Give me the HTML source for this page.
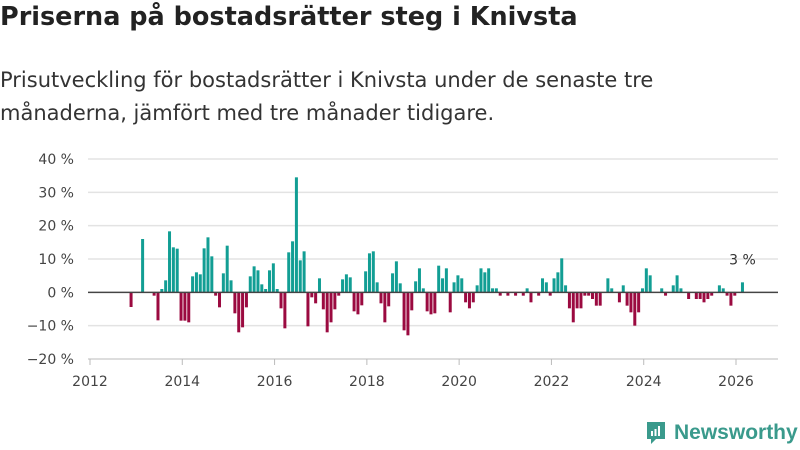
<!DOCTYPE html>
<html><head><meta charset="utf-8">
<style>
body{margin:0;background:#fff;font-family:"DejaVu Sans","Liberation Sans",sans-serif;}
#wrap{position:relative;width:800px;height:450px;overflow:hidden;}
h1{position:absolute;left:0;top:2px;margin:0;font-size:25.5px;font-weight:bold;color:#222;white-space:nowrap;}
p.sub{position:absolute;left:0;top:64px;margin:0;font-size:21px;line-height:33px;color:#333;width:760px;white-space:nowrap;}
</style></head>
<body>
<div id="wrap">
<h1>Priserna på bostadsrätter steg i Knivsta</h1>
<p class="sub">Prisutveckling för bostadsrätter i Knivsta under de senaste tre<br>månaderna, jämfört med tre månader tidigare.</p>
<svg id="chart" width="800" height="450" style="position:absolute;left:0;top:0"></svg>
<div style="position:absolute;left:645px;top:419px;height:28px;display:flex;align-items:center;">
<svg width="22" height="26" viewBox="0 0 22 26"><path d="M2 2h18v17h-9l-5 5v-5H2z" fill="#3a9a8c"/><rect x="6" y="11" width="2" height="5" fill="#fff"/><rect x="9.5" y="9" width="2" height="7" fill="#fff"/><rect x="13" y="6" width="2" height="10" fill="#fff"/></svg>
<span style="font-family:'Liberation Sans',sans-serif;font-size:21px;font-weight:bold;color:#3a9a8c;margin-left:7px;">Newsworthy</span>
</div>
</div>
<script>
const startYear = 2012.89;
const values = [-4.4,0,0,16,0,0,-1,-8.4,1,3.6,18.3,13.5,13.1,-8.5,-8.5,-9,4.8,6,5.4,13.2,16.5,10.8,-1,-4.5,5.7,14,3.6,-6.3,-12,-10.5,-4.5,4.8,7.8,6.6,2.4,1,6.6,8.7,1,-4.8,-10.8,12,15.3,34.5,9.6,12.3,-10.2,-1.5,-3.3,4.2,-5.1,-12,-9,-5.1,-1,3.9,5.4,4.5,-5.7,-6.6,-3.9,6.3,11.7,12.3,3,-3.3,-9,-4.2,5.7,9.3,2.7,-11.4,-12.9,-5.4,3.3,7.2,1.2,-5.7,-6.6,-6.3,8,4.2,7.2,-6,3,5.1,4.2,-3,-4.8,-3,2.1,7.2,6,7.2,1.2,1.2,-1,0,-1,0,-1,0,-1,1.2,-3,0,-1,4.2,3,-1,4.2,6,10.2,2.1,-4.8,-9,-4.8,-4.8,-1,-1,-2,-4,-4,0,4.2,1.2,0,-3,2.1,-4,-6,-10,-6,1.2,7.2,5.1,0,0,1.2,-1,0,2.1,5.1,1.2,0,-2,0,-2,-2,-3,-2,-1,0,2.1,1.2,-1,-4,-1,0,3];
const yTicks = [40,30,20,10,0,-10,-20];
const yTickLabels = ["40 %","30 %","20 %","10 %","0 %","−10 %","−20 %"];
const xTicks = [2012,2014,2016,2018,2020,2022,2024,2026];
const lastLabel = "3 %";

const NS="http://www.w3.org/2000/svg";
const svg=document.getElementById('chart');
const x0=90,x1=736,yTop=159,yBot=359;
function xs(t){return x0+(t-2012)*(x1-x0)/14;}
function ys(v){return yTop+(40-v)*(yBot-yTop)/60;}
function mk(tag,attrs){const e=document.createElementNS(NS,tag);for(const k in attrs)e.setAttribute(k,attrs[k]);svg.appendChild(e);return e;}

yTicks.forEach((v,i)=>{
  if(v!==-20&&v!==0){const g=mk('line',{x1:88,x2:778,y1:ys(v),y2:ys(v),stroke:'#e3e3e3','stroke-width':1.5});
  
  }
  const t=mk('text',{x:74,y:ys(v)+5,'text-anchor':'end','font-size':14,fill:'#444'});
  t.textContent=yTickLabels[i];
  
  
});
const ax=mk('line',{x1:88,x2:778,y1:yBot,y2:yBot,stroke:'#bbb','stroke-width':1});


xTicks.forEach(y=>{
  const l=mk('line',{x1:xs(y),x2:xs(y),y1:yBot,y2:yBot+6,stroke:'#bbb'});
  
  
  const t=mk('text',{x:xs(y),y:yBot+27,'text-anchor':'middle','font-size':14,fill:'#444'});
  t.textContent=y;
  
  
});
values.forEach((v,i)=>{
  if(v===0)return;
  const cx=xs(startYear+i/12);
  const y=Math.min(ys(v),ys(0)),h=Math.abs(ys(v)-ys(0));
  const r=mk('rect',{x:cx-1.5,y:y,width:3,height:h,fill:v>0?'#129e94':'#9b0a40'});
  
  
});
const zl=mk('line',{x1:88,x2:778,y1:ys(0),y2:ys(0),stroke:'#444','stroke-width':1.5});


const lt=mk('text',{x:xs(startYear+(values.length-1)/12),y:ys(values[values.length-1])-18,'text-anchor':'middle','font-size':14,fill:'#333'});
lt.textContent=lastLabel;


</script>
</body></html>
